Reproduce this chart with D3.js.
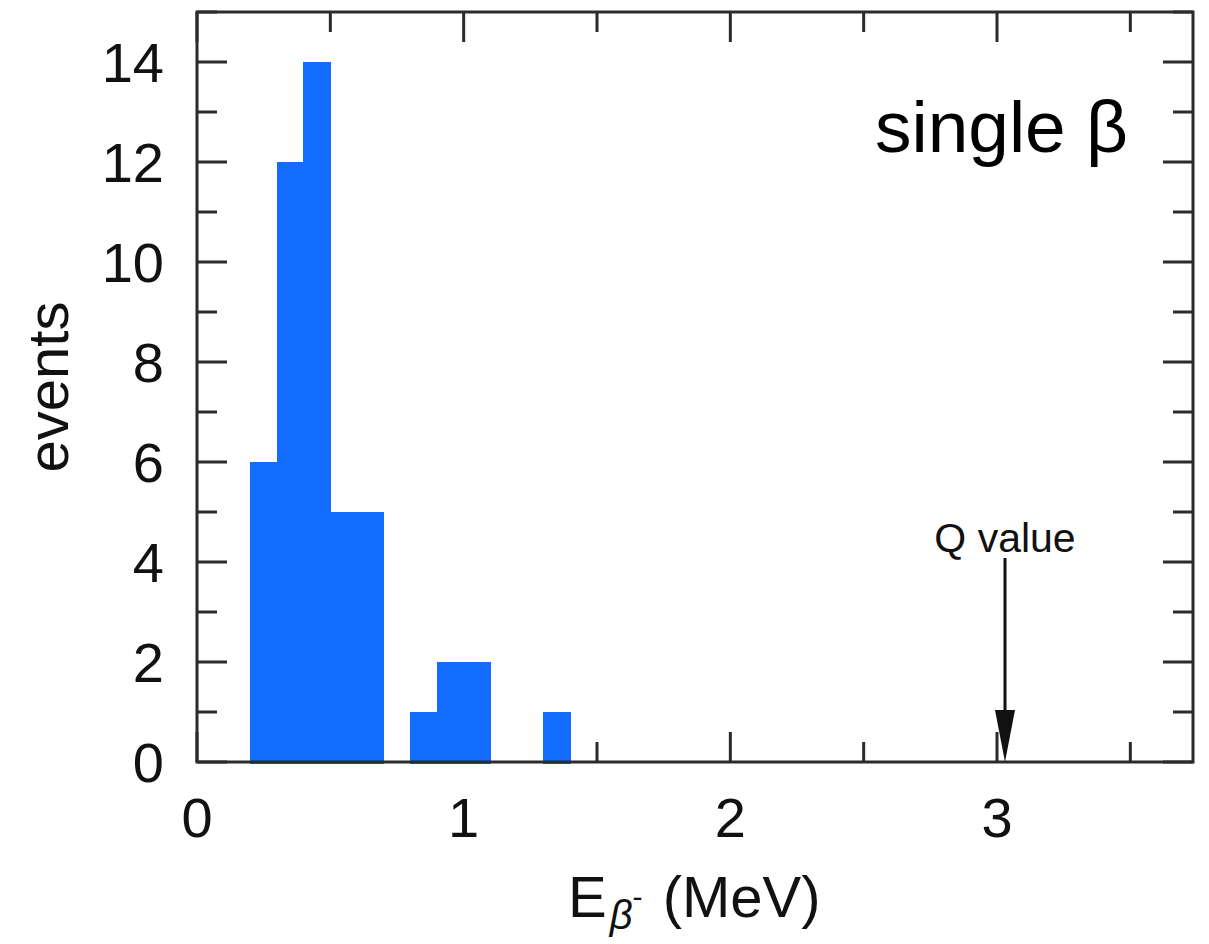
<!DOCTYPE html>
<html>
<head>
<meta charset="utf-8">
<script src="https://cdn.jsdelivr.net/npm/d3@7"></script>
<style>
  html, body { margin: 0; padding: 0; background: #fff; }
  svg { display: block; font-family: "Liberation Sans", Arial, Helvetica, sans-serif; }
</style>
</head>
<body>
<svg id="chart" width="1209" height="944"></svg>
<script>
// Histogram of single-beta energies (bins 0.1 MeV wide, lower edges in MeV)
const binLo = [0.2, 0.3, 0.4, 0.5, 0.6, 0.8, 0.9, 1.0, 1.3];
const counts = [6, 12, 14, 5, 5, 1, 2, 2, 1];
const binWidth = 0.1;
const qValue = 3.03;
const xTicks = [0, 1, 2, 3];
const yTicks = [0, 2, 4, 6, 8, 10, 12, 14];

const W = 1209, H = 944;
const svg = d3.select("#chart");

const x = d3.scaleLinear().domain([0, 3.735]).range([197, 1193]);
const y = d3.scaleLinear().domain([0, 15]).range([762, 12]);

const ink = "#2b2b2b";
const fontSize = 56;

// Inward ticks on all four sides
const tickG = svg.append("g").attr("stroke", ink).attr("stroke-width", 3);
d3.range(0, 3.75, 0.5).forEach(v => {
  const len = Number.isInteger(v) ? 30 : 20;
  tickG.append("line").attr("x1", x(v)).attr("x2", x(v)).attr("y1", y(0)).attr("y2", y(0) - len);
  tickG.append("line").attr("x1", x(v)).attr("x2", x(v)).attr("y1", y(15)).attr("y2", y(15) + len);
});
d3.range(0, 16, 1).forEach(v => {
  const len = v % 2 === 0 ? 30 : 20;
  tickG.append("line").attr("x1", x(0)).attr("x2", x(0) + len).attr("y1", y(v)).attr("y2", y(v));
  tickG.append("line").attr("x1", x.range()[1]).attr("x2", x.range()[1] - len).attr("y1", y(v)).attr("y2", y(v));
});

// Bars
svg.append("g").attr("shape-rendering", "crispEdges").selectAll("rect")
  .data(binLo.map((lo, i) => ({ lo, n: counts[i] })))
  .join("rect")
  .attr("x", d => Math.floor(x(d.lo)))
  .attr("width", d => Math.ceil(x(d.lo + binWidth)) - Math.floor(x(d.lo)))
  .attr("y", d => y(d.n))
  .attr("height", d => y(0) - y(d.n) + 1.5)
  .attr("fill", "#126cff");

// Frame
svg.append("rect")
  .attr("x", x(0)).attr("y", y(15))
  .attr("width", x.range()[1] - x(0)).attr("height", y(0) - y(15))
  .attr("fill", "none").attr("stroke", ink).attr("stroke-width", 3);

// Tick labels
svg.append("g").selectAll("text").data(xTicks).join("text")
  .attr("x", d => x(d)).attr("y", 837)
  .attr("text-anchor", "middle").attr("font-size", fontSize).attr("fill", "#111")
  .text(d => d);
svg.append("g").selectAll("text").data(yTicks).join("text")
  .attr("x", 164).attr("y", d => y(d)).attr("dy", "0.35em")
  .attr("text-anchor", "end").attr("font-size", fontSize).attr("fill", "#111")
  .text(d => d);

// Axis titles
svg.append("text")
  .attr("transform", "translate(68,387) rotate(-90)")
  .attr("text-anchor", "middle").attr("font-size", 58).attr("fill", "#111")
  .text("events");

const xt = svg.append("text")
  .attr("x", 568).attr("y", 917)
  .attr("font-size", 58).attr("fill", "#111");
xt.append("tspan").text("E");
xt.append("tspan").attr("font-size", 40).attr("font-style", "italic").attr("dy", 12).attr("dx", 3).text("β");
xt.append("tspan").attr("font-size", 30).attr("dy", -22).text("-");
xt.append("tspan").attr("dy", 10).attr("dx", 4).text(" (MeV)");

// Annotation
svg.append("text")
  .attr("x", 1128).attr("y", 152)
  .attr("text-anchor", "end").attr("font-size", 73).attr("fill", "#000")
  .text("single β");

// Q-value marker
svg.append("text")
  .attr("x", x(qValue)).attr("y", 552)
  .attr("text-anchor", "middle").attr("font-size", 41).attr("fill", "#111")
  .text("Q value");
svg.append("line")
  .attr("x1", x(qValue)).attr("x2", x(qValue))
  .attr("y1", 558).attr("y2", 715)
  .attr("stroke", "#111").attr("stroke-width", 3);
svg.append("path")
  .attr("d", `M${x(qValue) - 10},710 L${x(qValue) + 10},710 L${x(qValue)},${y(0)} Z`)
  .attr("fill", "#111");
</script>
</body>
</html>
